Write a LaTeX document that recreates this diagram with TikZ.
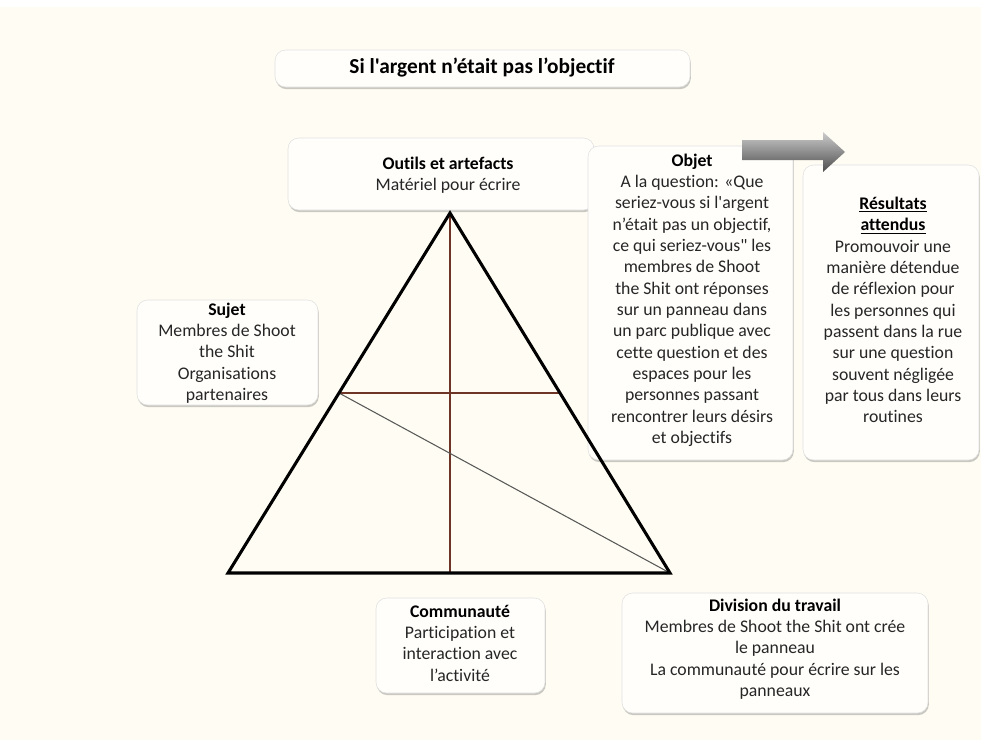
\documentclass[tikz,border=0pt]{standalone}
\usepackage{fontspec}
\setmainfont{Carlito}[Ligatures={TeXOff,CommonOff}]
\usetikzlibrary{calc, shadows}
\definecolor{cream}{HTML}{FFFDF3}
\definecolor{boxfill}{HTML}{FFFEFB}
\definecolor{rustline}{HTML}{6E3425}
\definecolor{textgray}{HTML}{262626}

\begin{document}
\begin{tikzpicture}[x=0.75pt,y=-0.75pt,
  card/.style={fill=boxfill, draw=black!12, line width=0.4pt, rounded corners=8pt,
    drop shadow={shadow xshift=0.6pt, shadow yshift=-1.6pt, opacity=0.35, fill=black!60}},
  body/.style={align=center, text=textgray, inner sep=0pt, font=\fontsize{13.3}{16}\selectfont},
  arrowshade/.style={top color=black!20, bottom color=black!70, middle color=black!45, draw=none}]
\useasboundingbox (0,0) rectangle (981,740);
\fill[cream] (0,7) rectangle (981,740);
% title
\path[card] (275,50) rectangle (690,87);
\node[inner sep=0pt, font=\fontsize{16}{19}\selectfont\bfseries] (title) at (482,68) {Si l'argent n’était pas l’objectif};
% boxes
\path[card] (288,138) rectangle (594,210);
\node[body] (outils) at (448,175) {\textcolor{black}{\textbf{Outils et artefacts}}\\Matériel pour écrire};
\path[card] (588,146) rectangle (793,460);
\node[body] (objet) at (692,300) {\textcolor{black}{\textbf{Objet}}\\A la question: «Que\\seriez-vous si l'argent\\n’était pas un objectif,\\ce qui seriez-vous" les\\membres de  Shoot\\the Shit ont réponses\\sur un panneau  dans\\un parc publique avec\\cette question et des\\espaces pour les\\personnes passant\\rencontrer leurs désirs\\et objectifs};
\path[card] (803,165) rectangle (979,460);
\node[body] (resultats) at (893,310) {\textcolor{black}{\textbf{\underline{Résultats}}}\\\textcolor{black}{\textbf{\underline{attendus}}}\\Promouvoir une\\manière détendue\\de réflexion pour\\les personnes qui\\passent dans la rue\\sur une question\\souvent négligée\\par tous dans leurs\\routines};
\path[card] (137,300) rectangle (318,405);
\node[body] (sujet) at (227,353) {\textcolor{black}{\textbf{Sujet}}\\Membres de Shoot\\the Shit\\Organisations\\partenaires};
\path[card] (376,598) rectangle (545,693);
\node[body] (communaute) at (460,643) {\textcolor{black}{\textbf{Communauté}}\\Participation et\\interaction avec\\l’activité};
\path[card] (622,593) rectangle (928,713);
\node[body] (division) at (775,649) {\textcolor{black}{\textbf{Division du travail}}\\Membres de Shoot the Shit ont crée\\le panneau\\La communauté pour écrire sur les\\panneaux};
% arrow to the outcome
\shade[arrowshade] (742,140) -- (823,140) -- (823,132) -- (845,152) -- (823,172) -- (823,160) -- (742,160) -- cycle;
% triangle
\coordinate (apex) at (450,213);
\coordinate (left) at (228,573);
\coordinate (right) at (670,573);
\coordinate (base) at (450,573);
\coordinate (lmid) at ($(apex)!0.5!(left)$);
\coordinate (rmid) at ($(apex)!0.5!(right)$);
\draw[rustline, line width=0.8pt] (apex) -- (base);
\draw[rustline, line width=0.8pt] (lmid) -- (rmid);
\draw[black!65, line width=0.8pt] (lmid) -- (right);
\draw[line width=2.3pt, line join=miter] (apex) -- (left) -- (right) -- cycle;
\end{tikzpicture}
\end{document}
